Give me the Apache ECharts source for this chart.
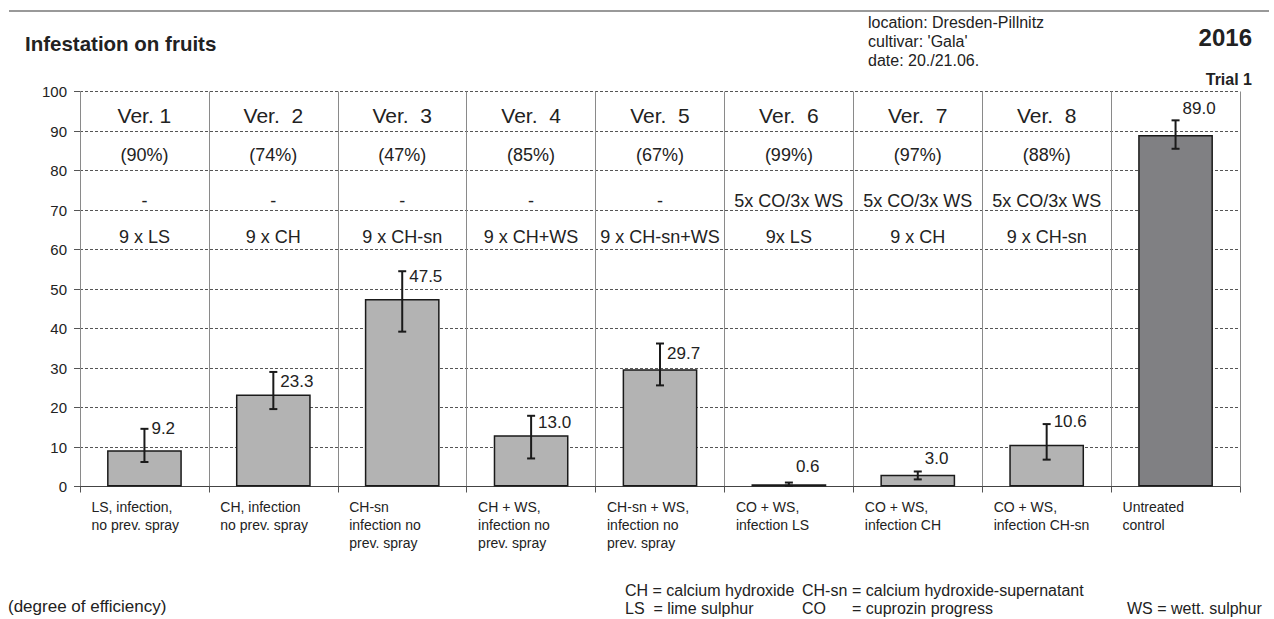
<!DOCTYPE html>
<html><head><meta charset="utf-8">
<script src="https://cdn.jsdelivr.net/npm/echarts@6/dist/echarts.min.js"></script>
<style>html,body{margin:0;padding:0;background:#fff}#c{width:1274px;height:619px}</style>
</head><body><div id="c"></div>
<script>
// ---- data ----
const categories = [
  'LS, infection,\nno prev. spray',
  'CH, infection\nno prev. spray',
  'CH-sn\ninfection no\nprev. spray',
  'CH + WS,\ninfection no\nprev. spray',
  'CH-sn + WS,\ninfection no\nprev. spray',
  'CO + WS,\ninfection LS',
  'CO + WS,\ninfection CH',
  'CO + WS,\ninfection CH-sn',
  'Untreated\ncontrol'
];
const means   = [9.2, 23.3, 47.5, 13.0, 29.7, 0.6, 3.0, 10.6, 89.0];
const errLow  = [6.2, 19.6, 39.2, 7.1, 25.6, 0.2, 1.8, 6.8, 85.5];
const errHigh = [14.6, 29.0, 54.5, 17.9, 36.2, 1.0, 3.8, 15.8, 92.7];
const verLabels  = ['Ver. 1', 'Ver.  2', 'Ver.  3', 'Ver.  4', 'Ver.  5', 'Ver.  6', 'Ver.  7', 'Ver.  8', ''];
const efficiency = ['(90%)', '(74%)', '(47%)', '(85%)', '(67%)', '(99%)', '(97%)', '(88%)', ''];
const preSpray   = ['-', '-', '-', '-', '-', '5x CO/3x WS', '5x CO/3x WS', '5x CO/3x WS', ''];
const sprays     = ['9 x LS', '9 x CH', '9 x CH-sn', '9 x CH+WS', '9 x CH-sn+WS', '9x LS', '9 x CH', '9 x CH-sn', ''];
const yMin = 0, yMax = 100, yStep = 10;

// ---- layout / style ----
const FONT = '"Liberation Sans", Arial, Helvetica, sans-serif';
const TXT = '#222';
const rowY = [94.0, 83.9, 72.2, 63.2];
const rowText = [verLabels, efficiency, preSpray, sprays];
const rowSize = [21, 18, 18, 18];
const labelDy = [0, 10, 5, 7, 10, -16, -13, -3, -12];

const headerData = [];
rowText.forEach((row, r) => row.forEach((t, i) => { if (t) headerData.push([i, rowY[r], r]); }));
const errData = means.map((m, i) => [i, errLow[i], errHigh[i], m]);

const chart = echarts.init(document.getElementById('c'), null, {renderer: 'svg'});
chart.setOption({
  animation: false,
  backgroundColor: '#fff',
  textStyle: {fontFamily: FONT},
  grid: {left: 80, right: 34, top: 91.5, bottom: 132.5, containLabel: false},
  xAxis: {
    type: 'category', data: categories, boundaryGap: true,
    axisLine: {lineStyle: {color: '#444', width: 1}},
    axisTick: {show: true, length: 6, lineStyle: {color: '#555'}},
    splitLine: {show: true, lineStyle: {color: '#8a8a8a', width: 1}},
    axisLabel: {
      interval: 0, margin: 11, align: 'center', width: 106, overflow: 'none',
      color: TXT, fontSize: 14, lineHeight: 18, verticalAlign: 'top',
      formatter: v => v.split('\n').map(s => '{a|' + s + '}').join('\n'),
      rich: {a: {align: 'left', fontSize: 14, lineHeight: 18, fontFamily: FONT, color: TXT}}
    }
  },
  yAxis: {
    type: 'value', min: yMin, max: yMax, interval: yStep,
    axisLine: {show: true, lineStyle: {color: '#8a8a8a'}},
    axisTick: {show: true, length: 6, lineStyle: {color: '#555'}},
    axisLabel: {fontSize: 15, color: TXT, margin: 13, fontFamily: FONT},
    splitLine: {show: true, lineStyle: {type: [3, 2], color: '#555', width: 1}}
  },
  series: [
    {
      type: 'bar', barWidth: '58%', z: 2,
      data: means.map((v, i) => ({
        value: v,
        itemStyle: {color: i === means.length - 1 ? '#808083' : '#b3b3b3', borderColor: '#1a1a1a', borderWidth: 1.5}
      }))
    },
    {
      type: 'custom', z: 5, clip: false,
      data: errData,
      encode: {x: 0, y: [1, 2]},
      renderItem(params, api) {
        const i = api.value(0);
        const lo = api.coord([i, api.value(1)]);
        const hi = api.coord([i, api.value(2)]);
        const w = 4;
        const st = {stroke: '#1a1a1a', lineWidth: 2};
        return {type: 'group', children: [
          {type: 'line', shape: {x1: hi[0], y1: hi[1], x2: lo[0], y2: lo[1]}, style: st},
          {type: 'line', shape: {x1: hi[0] - w, y1: hi[1], x2: hi[0] + w, y2: hi[1]}, style: st},
          {type: 'line', shape: {x1: lo[0] - w, y1: lo[1], x2: lo[0] + w, y2: lo[1]}, style: st},
          {type: 'text', style: {x: hi[0] + 7, y: hi[1] + labelDy[i], text: api.value(3).toFixed(1),
            fill: TXT, fontSize: 17, fontFamily: FONT, align: 'left', verticalAlign: 'middle'}}
        ]};
      }
    },
    {
      type: 'custom', z: 6, clip: false,
      data: headerData,
      encode: {x: 0, y: 1},
      renderItem(params, api) {
        const i = api.value(0), r = api.value(2);
        const p = api.coord([i, api.value(1)]);
        return {type: 'text', style: {x: p[0], y: p[1], text: rowText[r][i], fill: TXT,
          fontSize: rowSize[r], fontFamily: FONT, align: 'center', verticalAlign: 'middle'}};
      }
    }
  ],
  graphic: [
    {type: 'line', shape: {x1: 9, y1: 11, x2: 1269, y2: 11}, style: {stroke: '#777', lineWidth: 1.5}},
    {type: 'text', left: 25, top: 33, style: {text: 'Infestation on fruits', fontSize: 20.5, fontWeight: 'bold', fontFamily: FONT, fill: TXT}},
    {type: 'text', left: 868, top: 13, style: {text: "location: Dresden-Pillnitz\ncultivar: 'Gala'\ndate: 20./21.06.", fontSize: 16, lineHeight: 19, fontFamily: FONT, fill: TXT}},
    {type: 'text', right: 22, top: 25, style: {text: '2016', fontSize: 24, fontWeight: 'bold', fontFamily: FONT, fill: TXT}},
    {type: 'text', right: 22, top: 71, style: {text: 'Trial 1', fontSize: 16, fontWeight: 'bold', fontFamily: FONT, fill: TXT}},
    {type: 'text', left: 8, top: 598, style: {text: '(degree of efficiency)', fontSize: 17, fontFamily: FONT, fill: TXT}},
    {type: 'text', left: 625, top: 582, style: {text: 'CH = calcium hydroxide', fontSize: 16, fontFamily: FONT, fill: TXT}},
    {type: 'text', left: 802, top: 582, style: {text: 'CH-sn', fontSize: 16, fontFamily: FONT, fill: TXT}},
    {type: 'text', left: 852, top: 582, style: {text: '= calcium hydroxide-supernatant', fontSize: 16, fontFamily: FONT, fill: TXT}},
    {type: 'text', left: 625, top: 600, style: {text: 'LS  = lime sulphur', fontSize: 16, fontFamily: FONT, fill: TXT}},
    {type: 'text', left: 802, top: 600, style: {text: 'CO', fontSize: 16, fontFamily: FONT, fill: TXT}},
    {type: 'text', left: 852, top: 600, style: {text: '= cuprozin progress', fontSize: 16, fontFamily: FONT, fill: TXT}},
    {type: 'text', left: 1127, top: 600, style: {text: 'WS = wett. sulphur', fontSize: 16, fontFamily: FONT, fill: TXT}}
  ]
});
</script></body></html>
